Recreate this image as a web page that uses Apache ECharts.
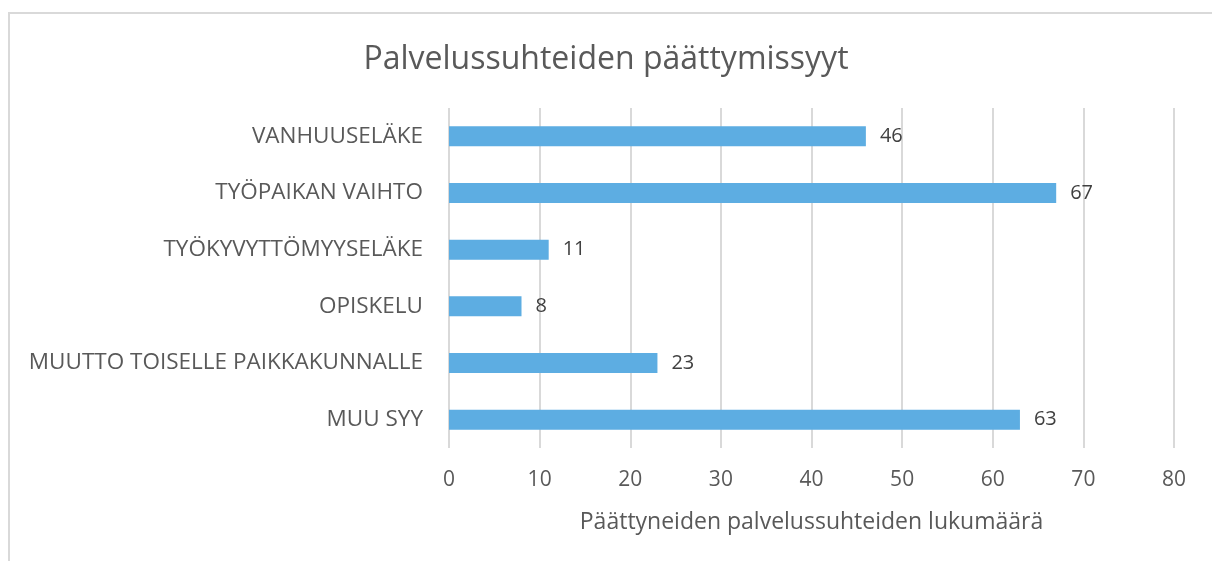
<!DOCTYPE html>
<html>
<head>
<meta charset="utf-8">
<script src="https://cdn.jsdelivr.net/npm/echarts@6/dist/echarts.min.js"></script>
<style>
    html, body { margin: 0; padding: 0; background: #fff; }
    #frame { position: absolute; left: 8px; top: 12px; width: 1220px; height: 560px;
             border-left: 2px solid #d9d9d9; border-top: 2px solid #d9d9d9; }
    #main { position: absolute; left: 0; top: 0; width: 1212px; height: 561px; }
</style>
</head>
<body>
<div id="frame"></div>
<div id="main"></div>
<script>
var categories = ['VANHUUSELÄKE', 'TYÖPAIKAN VAIHTO', 'TYÖKYVYTTÖMYYSELÄKE', 'OPISKELU', 'MUUTTO TOISELLE PAIKKAKUNNALLE', 'MUU SYY'];
var values = [46, 67, 11, 8, 23, 63];
var axisTicks = [0, 10, 20, 30, 40, 50, 60, 70, 80];

var font = '"Open Sans", Lato, sans-serif';

// 基于准备好的dom, 初始化echarts实例
var chart = echarts.init(document.getElementById('main'));
var option = {
    animation: false,
    title: {
        text: 'Palvelussuhteiden päättymissyyt',
        left: 'center',
        top: 39,
        textStyle: { fontFamily: font, fontSize: 32, fontWeight: 'normal', color: '#595959' }
    },
    grid: { left: 449, right: 38, top: 108, bottom: 113 },
    xAxis: {
        type: 'value',
        min: axisTicks[0],
        max: axisTicks[axisTicks.length - 1],
        interval: 10,
        name: 'Päättyneiden palvelussuhteiden lukumäärä',
        nameLocation: 'middle',
        nameGap: 63,
        nameTextStyle: { fontFamily: font, fontSize: 23, color: '#595959' },
        axisLine: { show: false },
        axisTick: { show: false },
        axisLabel: { fontFamily: font, fontSize: 21, color: '#595959', margin: 22 },
        splitLine: { lineStyle: { color: '#d9d9d9', width: 2 } }
    },
    yAxis: {
        type: 'category',
        data: categories,
        inverse: true,
        axisLine: { show: false },
        axisTick: { show: false },
        axisLabel: { fontFamily: font, fontSize: 22.5, color: '#595959', margin: 26 }
    },
    series: [{
        type: 'bar',
        data: values,
        barWidth: 20,
        itemStyle: { color: '#5DADE2' },
        label: {
            show: true,
            position: 'right',
            distance: 14,
            fontFamily: font,
            fontSize: 20,
            color: '#404040'
        }
    }]
};
chart.setOption(option);
</script>
</body>
</html>
